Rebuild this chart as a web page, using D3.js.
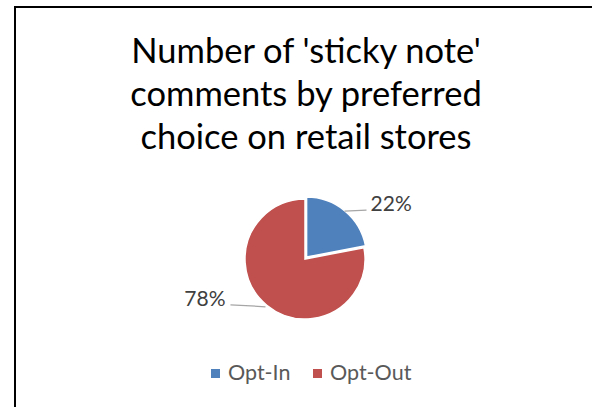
<!DOCTYPE html>
<html>
<head>
<meta charset="utf-8">
<script src="https://cdn.jsdelivr.net/npm/d3@7"></script>
<style>
html,body{margin:0;padding:0;background:#fff;}
svg{display:block;}
text{font-family:Lato,"Open Sans",sans-serif;}
</style>
</head>
<body>
<svg id="chart" width="592" height="407"></svg>
<script>
const titleLines = ["Number of 'sticky note'", "comments by preferred", "choice on retail stores"];
const categories = ["Opt-In", "Opt-Out"];
const values = [22, 78];
const colors = ["#4F81BD", "#C0504D"];

const svg = d3.select("#chart");
// outer chart border (extends beyond the window on right/bottom)
svg.append("rect").attr("x", 15).attr("y", 7).attr("width", 620).attr("height", 440)
  .attr("fill", "#fff").attr("stroke", "#000").attr("stroke-width", 2);

// title
const title = svg.append("text").attr("text-anchor", "middle")
  .attr("font-size", 34.5).attr("fill", "#000");
titleLines.forEach((t, i) => {
  title.append("tspan").attr("x", 306).attr("y", 63 + i * 43).text(t);
});

const cx = 305, cy = 259, r = 60;
const data = categories.map((c, i) => ({cat: c, value: values[i], color: colors[i]}));
const pie = d3.pie().sort(null).value(d => d.value).startAngle(0).endAngle(2 * Math.PI);
const arcs = pie(data);
const arc = d3.arc().innerRadius(0).outerRadius(r);
const total = d3.sum(values);

const g = svg.append("g").attr("transform", `translate(${cx},${cy})`);
g.selectAll("path").data(arcs).enter().append("path")
  .attr("d", arc)
  .attr("fill", d => d.data.color)
  .attr("stroke", "#fff").attr("stroke-width", 1.5)
  .attr("transform", (d, i) => {
    if (i !== 0) return null;
    const m = (d.startAngle + d.endAngle) / 2;
    return `translate(${2.5 * Math.sin(m)},${-2.5 * Math.cos(m)})`;
  });

// leader lines + labels
arcs.forEach((d) => {
  const m = (d.startAngle + d.endAngle) / 2;
  const sx = (r + 2) * Math.sin(m), sy = -(r + 2) * Math.cos(m);
  const right = Math.sin(m) >= 0;
  const ex = sx + (right ? 22 : -35), ey = sy + (right ? -1 : -2);
  g.append("line").attr("x1", sx).attr("y1", sy).attr("x2", ex).attr("y2", ey)
    .attr("stroke", "#a6a6a6").attr("stroke-width", 1.25);
  g.append("text")
    .attr("x", ex + (right ? 4 : -5)).attr("y", ey + 1)
    .attr("text-anchor", right ? "start" : "end")
    .attr("font-size", 21).attr("fill", "#404040")
    .text(d3.format(".0%")(d.data.value / total));
});

// legend
const legendX = [211, 313];
const lg = svg.append("g");
data.forEach((d, i) => {
  lg.append("rect").attr("x", legendX[i]).attr("y", 369).attr("width", 9).attr("height", 9)
    .attr("fill", d.color);
  lg.append("text").attr("x", legendX[i] + 17).attr("y", 380)
    .attr("font-size", 21.5).attr("fill", "#595959").text(d.cat);
});
</script>
</body>
</html>
